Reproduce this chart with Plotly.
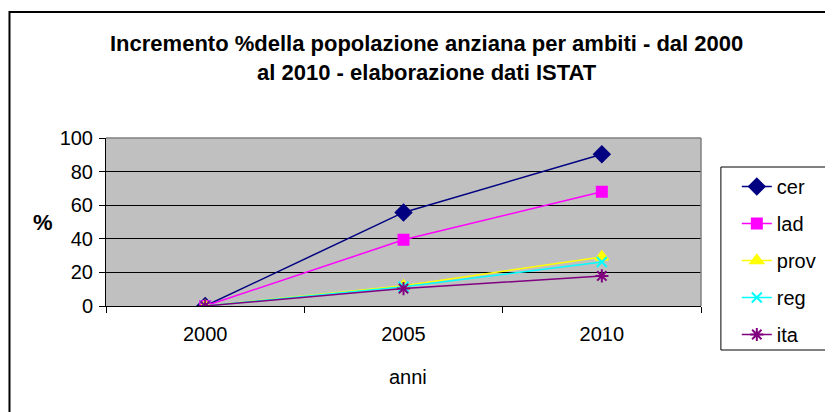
import plotly.graph_objects as go

years = ["2000", "2005", "2010"]
cer = [0, 55.7, 90.3]
lad = [0, 39.4, 68.0]
prov = [0, 12.0, 29.2]
reg = [0, 11.5, 26.2]
ita = [0, 10.4, 17.9]
series_names = ["cer", "lad", "prov", "reg", "ita"]
y_ticks = [0, 20, 40, 60, 80, 100]

# page body has an 8px margin; target plot area in window coords: x 106..704, y 138..306
OFF = 8
PX0, PX1, PY0, PY1 = 106, 704, 138, 306
W, H = 833 - OFF, 412 - OFF
L, T = PX0 - OFF, PY0 - OFF
R, B = 833 - PX1, 412 - PY1
pw, ph = PX1 - PX0, PY1 - PY0

def px_x(p):
    return (p - PX0) / pw

def px_y(p):
    return (PY1 - p) / ph

FONT = "Liberation Sans, Arial, sans-serif"

styles = [
    dict(color="#000080", symbol="diamond", size=12, lw=1.5),
    dict(color="#FF00FF", symbol="square", size=10, lw=1.5),
    dict(color="#FFFF00", symbol="triangle-up", size=11, lw=1.5),
    dict(color="#00FFFF", symbol="x-thin-open", size=10, lw=1.5),
    dict(color="#800080", symbol="asterisk-open", size=11, lw=1.5),
]
data = [cer, lad, prov, reg, ita]

fig = go.Figure()
for i, (name, vals, st) in enumerate(zip(series_names, data, styles)):
    fig.add_trace(go.Scatter(
        x=years, y=vals, name=name, mode="lines+markers",
        line=dict(color=st["color"], width=st["lw"]),
        marker=dict(color=st["color"], symbol=st["symbol"], size=st["size"],
                    line=dict(color=st["color"], width=2)),
        legendgroup=name,
    ))

fig.update_layout(
    width=W, height=H,
    margin=dict(l=L, r=R, t=T, b=B, pad=0),
    paper_bgcolor="white",
    plot_bgcolor="#C0C0C0",
    font=dict(family=FONT, size=20, color="black"),
    showlegend=True,
    legend=dict(
        x=px_x(740), y=px_y(167), xanchor="left", yanchor="top",
        bgcolor="rgba(0,0,0,0)", borderwidth=0,
        font=dict(family=FONT, size=20, color="black"),
        tracegroupgap=8, traceorder="grouped", maxheight=400,
    ),
    xaxis=dict(
        type="category", range=[-0.5, 2.5],
        showgrid=False, showline=True, linecolor="black", linewidth=1,
        ticks="outside", ticklen=6, tickcolor="black", tickson="boundaries",
        tickfont=dict(size=20), zeroline=False, ticklabelstandoff=10,
    ),
    yaxis=dict(
        range=[0, 100], tickvals=y_ticks,
        showgrid=True, gridcolor="black", gridwidth=1,
        showline=True, linecolor="black", linewidth=1,
        ticks="outside", ticklen=6, tickcolor="black",
        tickfont=dict(size=20), zeroline=False, ticklabelstandoff=2,
    ),
    shapes=[
        dict(type="rect", xref="paper", yref="paper",
             x0=px_x(9), x1=px_x(845), y0=px_y(425), y1=px_y(12),
             line=dict(color="black", width=2), fillcolor="rgba(0,0,0,0)", layer="below"),
        dict(type="line", xref="paper", yref="paper", x0=0, x1=1, y0=1, y1=1,
             line=dict(color="#808080", width=1.5)),
        dict(type="line", xref="paper", yref="paper", x0=1, x1=1, y0=0, y1=1,
             line=dict(color="#808080", width=1.5)),
        dict(type="rect", xref="paper", yref="paper",
             x0=px_x(724), x1=px_x(845), y0=px_y(350), y1=px_y(167),
             line=dict(color="black", width=1), fillcolor="white", layer="below"),
    ],
    annotations=[
        dict(text="<b>Incremento %della popolazione anziana per ambiti - dal 2000<br>al 2010 - elaborazione dati ISTAT</b>",
             xref="paper", yref="paper", x=px_x(428), y=px_y(58), xanchor="center", yanchor="middle",
             showarrow=False, font=dict(family=FONT, size=22, color="black")),
        dict(text="<b>%</b>", xref="paper", yref="paper", x=px_x(43), y=px_y(222),
             xanchor="center", yanchor="middle", showarrow=False,
             font=dict(family=FONT, size=22, color="black")),
        dict(text="anni", xref="paper", yref="paper", x=px_x(410), y=px_y(377),
             xanchor="center", yanchor="middle", showarrow=False,
             font=dict(family=FONT, size=20, color="black")),
    ],
)

fig.write_html("out.html")
